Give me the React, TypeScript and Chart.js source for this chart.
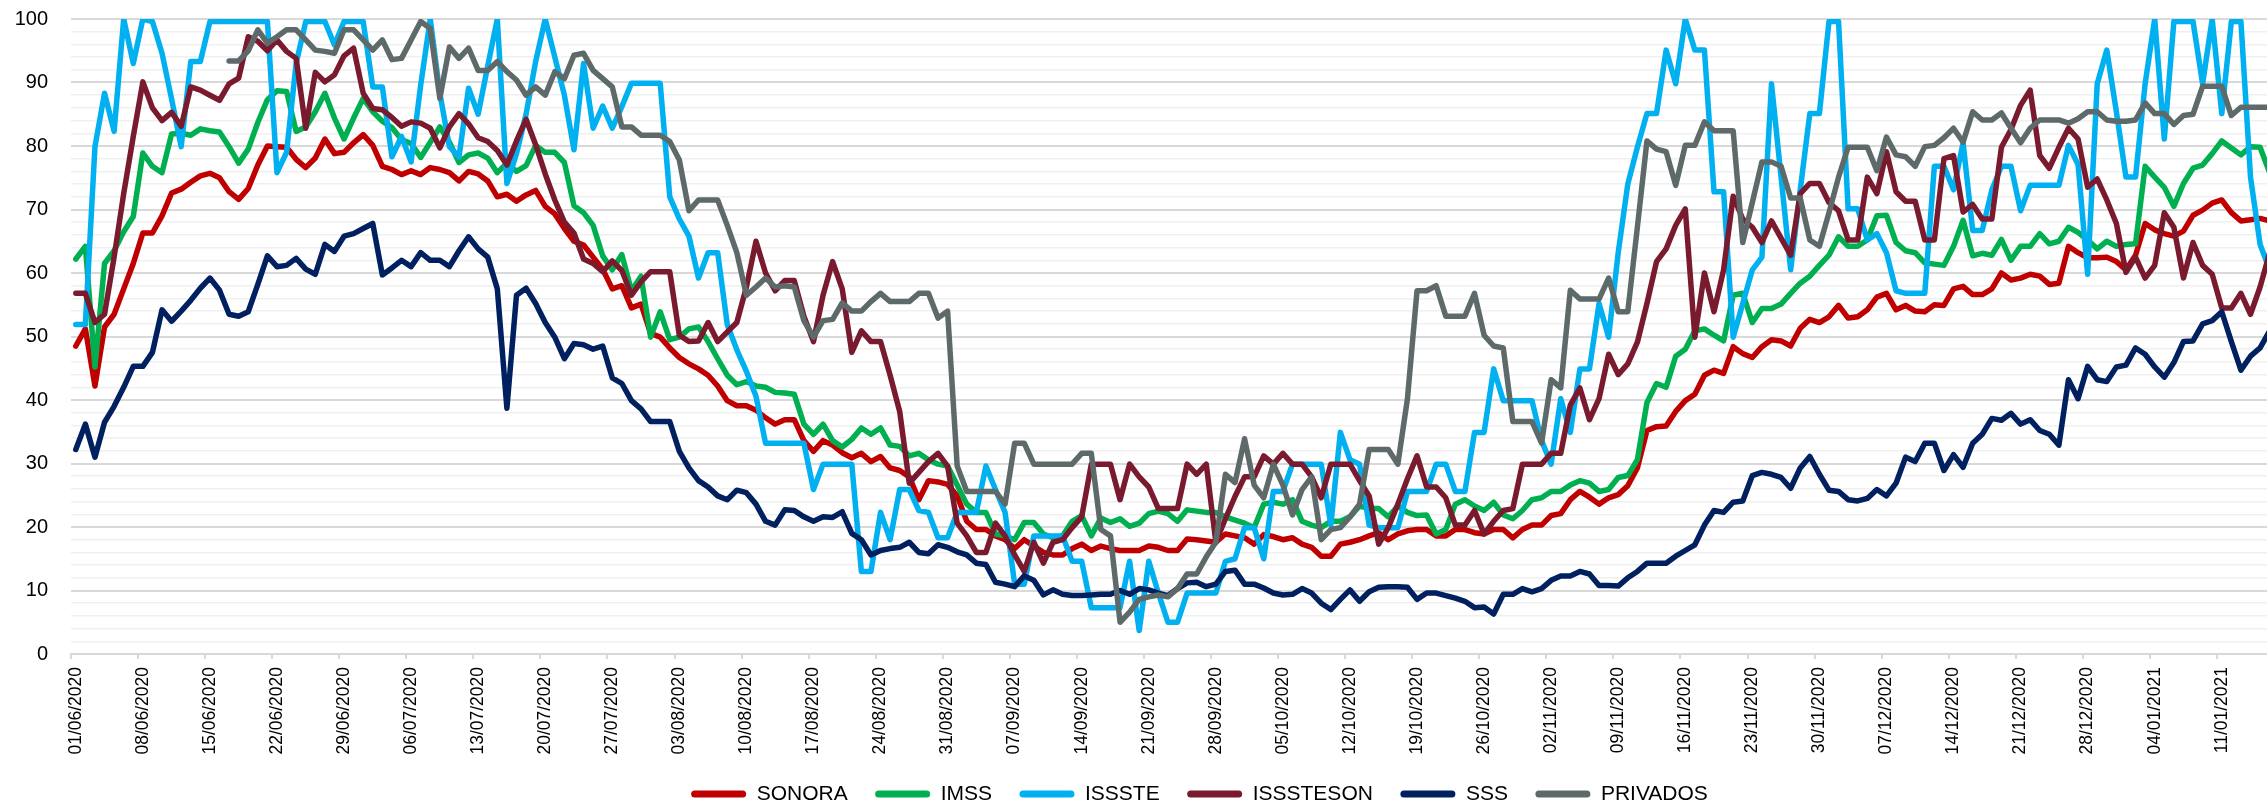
import React, { useEffect, useRef } from 'react';
import { Chart, registerables } from 'chart.js';

Chart.register(...registerables);

// ---------- categories (daily, 01/06/2020 onwards) ----------
const START_DATE = Date.UTC(2020, 5, 1);
const CATEGORY_COUNT = 243;
const LABEL_EVERY = 7;
const pad2 = (n: number) => (n < 10 ? '0' + n : String(n));
const categories: string[] = Array.from({ length: CATEGORY_COUNT }, (_, i) => {
  const d = new Date(START_DATE + i * 86400000);
  return `${pad2(d.getUTCDate())}/${pad2(d.getUTCMonth() + 1)}/${d.getUTCFullYear()}`;
});

// ---------- y axis ----------
const Y_MIN = 0;
const Y_MAX = 100;
const Y_STEP = 2;
const Y_LABEL_EVERY = 10;

// ---------- series values (%), one per day ----------
const SONORA = [
  48.5, 51.2, 42.2, 51.5, 53.5, 57.5, 61.5, 66.3, 66.3, 69.0,
  72.6, 73.2, 74.3, 75.3, 75.7, 75.0, 72.8, 71.6, 73.3, 77.0,
  80.0, 79.9, 79.8, 77.9, 76.6, 78.1, 81.1, 78.8, 79.0, 80.5,
  81.8, 80.1, 76.8, 76.3, 75.5, 76.1, 75.5, 76.6, 76.3, 75.8,
  74.5, 76.0, 75.6, 74.5, 72.0, 72.4, 71.3, 72.3, 73.0, 70.5,
  69.3, 67.0, 65.0, 64.4, 62.5, 60.6, 57.5, 58.0, 54.5, 55.1,
  50.5, 49.9, 48.2, 46.7, 45.7, 44.9, 43.9, 42.2, 39.9, 39.1,
  39.1, 38.4, 37.2, 36.2, 36.9, 36.9, 33.6, 31.9, 33.6, 32.9,
  31.7, 30.9, 31.6, 30.3, 31.1, 29.3, 28.9, 27.9, 24.3, 27.3,
  27.1, 26.7, 24.9, 20.9, 19.6, 19.6, 18.6, 18.0, 16.6, 18.0,
  17.0, 16.0, 15.6, 15.6, 16.6, 17.3, 16.3, 17.0, 16.6, 16.3,
  16.3, 16.3, 17.0, 16.8, 16.3, 16.3, 18.1, 18.0, 17.8, 17.6,
  18.9, 18.6, 18.3, 17.3, 18.8, 18.5, 18.0, 18.3, 17.3, 16.8,
  15.4, 15.4, 17.3, 17.6, 18.0, 18.6, 19.1, 18.0, 18.9, 19.4,
  19.6, 19.6, 18.6, 18.6, 19.6, 19.6, 19.1, 18.9, 19.6, 19.6,
  18.3, 19.6, 20.3, 20.3, 21.8, 22.1, 24.3, 25.6, 24.7, 23.6,
  24.6, 25.1, 26.5, 29.3, 35.2, 35.8, 35.9, 38.2, 39.9, 40.9,
  43.9, 44.7, 44.2, 48.4, 47.3, 46.7, 48.4, 49.5, 49.3, 48.5,
  51.3, 52.7, 52.2, 53.1, 54.9, 52.9, 53.1, 54.2, 56.2, 56.8,
  54.2, 54.9, 54.0, 53.9, 55.0, 54.9, 57.5, 57.9, 56.6, 56.6,
  57.5, 60.0, 58.9, 59.2, 59.8, 59.5, 58.2, 58.4, 64.2, 63.2,
  62.4, 62.4, 62.5, 61.8, 60.5, 62.8, 67.8, 66.8, 66.2, 65.8,
  66.6, 69.1, 69.9, 71.0, 71.5, 69.5, 68.2, 68.4, 68.6, 68.2,
];

const IMSS = [
  62.2, 64.2, 45.2, 61.5, 63.5, 66.5, 68.9, 78.9, 76.8, 75.8,
  81.9, 82.0, 81.7, 82.7, 82.4, 82.2, 79.9, 77.3, 79.5, 83.7,
  87.3, 88.7, 88.6, 82.3, 83.0, 85.4, 88.3, 84.4, 81.1, 84.4,
  87.5, 85.4, 83.9, 82.9, 81.0, 80.4, 78.2, 80.6, 83.0, 80.6,
  77.4, 78.6, 78.9, 78.1, 75.8, 77.3, 76.0, 76.9, 80.1, 79.0,
  79.0, 77.4, 70.6, 69.5, 67.5, 62.7, 60.5, 62.9, 57.2, 59.5,
  49.9, 53.9, 49.5, 49.9, 51.2, 51.5, 49.2, 46.5, 43.9, 42.4,
  42.9, 42.2, 42.0, 41.2, 41.1, 40.9, 36.2, 34.6, 36.2, 33.6,
  32.6, 33.8, 35.6, 34.6, 35.6, 32.9, 32.7, 31.2, 31.6, 30.6,
  29.9, 29.6, 26.6, 23.6, 22.3, 22.3, 18.9, 18.6, 18.0, 20.7,
  20.7, 18.9, 18.3, 18.6, 20.9, 21.8, 18.6, 21.4, 20.7, 21.3,
  20.1, 20.6, 22.1, 22.5, 22.1, 20.9, 22.7, 22.5, 22.3, 22.3,
  21.6, 21.1, 20.6, 19.9, 23.6, 23.9, 23.6, 24.3, 20.9, 20.3,
  19.9, 20.9, 20.9, 21.6, 23.3, 22.9, 22.9, 21.6, 23.3, 22.3,
  21.8, 21.9, 18.9, 19.6, 23.6, 24.3, 23.3, 22.6, 23.9, 21.9,
  21.3, 22.6, 24.3, 24.6, 25.6, 25.6, 26.6, 27.3, 26.9, 25.6,
  25.9, 27.8, 28.1, 30.6, 39.6, 42.6, 42.0, 46.9, 48.0, 50.9,
  51.2, 50.2, 49.3, 56.5, 56.8, 52.2, 54.4, 54.4, 55.1, 56.8,
  58.4, 59.5, 61.2, 62.8, 65.7, 64.2, 64.2, 65.2, 69.0, 69.1,
  64.8, 63.5, 63.2, 61.6, 61.4, 61.2, 64.2, 68.3, 62.7, 63.1,
  62.8, 65.3, 62.0, 64.2, 64.2, 66.2, 64.6, 65.0, 67.2, 66.4,
  65.2, 63.8, 65.0, 64.2, 64.5, 64.6, 76.8, 75.1, 73.5, 70.5,
  74.1, 76.5, 77.0, 78.8, 80.8, 79.7, 78.6, 79.9, 79.8, 75.8,
];

const ISSSTE = [
  51.9, 51.9, 79.9, 88.3, 82.3, 100, 93.0, 100, 99.6, 94.6,
  87.4, 79.9, 93.3, 93.3, 99.6, 99.6, 99.6, 99.6, 99.6, 99.6,
  99.6, 75.8, 79.0, 93.0, 99.6, 99.6, 99.6, 95.9, 99.6, 99.6,
  99.6, 89.3, 89.3, 78.3, 81.5, 77.5, 89.6, 100, 88.3, 79.9,
  78.3, 89.1, 85.0, 92.6, 100, 74.1, 78.8, 85.0, 93.3, 100,
  94.0, 88.0, 79.4, 93.0, 82.8, 86.3, 82.8, 86.2, 89.9, 89.9,
  89.9, 89.9, 72.0, 68.5, 65.8, 59.2, 63.2, 63.2, 51.9, 47.9,
  44.5, 40.6, 33.2, 33.2, 33.2, 33.2, 33.2, 25.9, 29.9, 29.9,
  29.9, 29.9, 13.0, 13.0, 22.3, 18.0, 25.9, 25.9, 22.6, 22.3,
  18.3, 18.3, 22.3, 22.3, 22.3, 29.6, 25.9, 22.3, 11.0, 11.0,
  18.6, 18.6, 18.6, 18.6, 14.6, 14.6, 7.3, 7.3, 7.3, 7.3,
  14.6, 3.7, 14.6, 9.6, 5.0, 5.0, 9.6, 9.6, 9.6, 9.6,
  14.6, 15.0, 19.9, 19.9, 15.0, 25.6, 25.6, 29.9, 29.9, 29.9,
  29.9, 20.3, 34.9, 30.6, 29.9, 20.3, 19.9, 19.9, 19.9, 25.6,
  25.6, 25.6, 29.9, 29.9, 25.6, 25.6, 34.9, 34.9, 44.9, 39.9,
  39.9, 39.9, 39.9, 33.6, 29.9, 40.2, 34.9, 44.9, 44.9, 55.2,
  49.9, 63.2, 74.0, 79.8, 85.1, 85.1, 95.1, 89.8, 100, 95.1,
  95.1, 72.8, 72.8, 49.9, 55.2, 60.5, 62.5, 89.8, 75.1, 60.5,
  73.1, 85.1, 85.1, 99.6, 99.6, 70.1, 70.1, 65.2, 66.2, 63.2,
  57.2, 56.8, 56.8, 56.8, 76.8, 76.8, 73.1, 80.5, 66.7, 66.7,
  73.1, 76.8, 76.8, 69.8, 73.8, 73.8, 73.8, 73.8, 80.1, 77.1,
  59.8, 89.8, 95.1, 85.4, 75.1, 75.1, 89.8, 100, 81.1, 99.6,
  99.6, 99.6, 89.8, 100, 85.1, 99.6, 99.6, 75.1, 64.5, 60.5,
];

const ISSSTESON = [
  56.8, 56.8, 52.2, 53.5, 62.5, 72.5, 81.5, 90.1, 86.0, 84.0,
  85.3, 83.1, 89.3, 88.8, 88.0, 87.2, 89.8, 90.7, 97.2, 96.5,
  95.0, 96.7, 94.9, 93.8, 82.8, 91.6, 90.1, 91.2, 94.2, 95.4,
  88.3, 85.9, 85.7, 84.5, 83.1, 83.8, 83.6, 82.8, 79.7, 83.0,
  85.1, 83.5, 81.3, 80.7, 79.3, 77.0, 80.8, 84.2, 80.2, 75.6,
  71.5, 68.0, 66.3, 62.2, 61.5, 60.2, 61.9, 60.4, 56.5, 58.6,
  60.2, 60.2, 60.2, 50.2, 49.2, 49.3, 52.2, 49.2, 50.7, 52.2,
  57.8, 65.0, 60.0, 57.2, 58.8, 58.8, 53.2, 49.2, 56.5, 61.8,
  57.5, 47.5, 50.9, 49.2, 49.2, 43.9, 38.2, 26.9, 28.6, 30.3,
  31.6, 29.6, 20.6, 18.6, 16.0, 16.0, 20.6, 18.6, 15.6, 13.0,
  17.6, 14.3, 17.6, 18.0, 19.9, 21.6, 29.9, 29.9, 29.9, 24.3,
  29.9, 27.9, 26.3, 22.9, 22.9, 22.9, 29.9, 28.3, 29.9, 17.6,
  21.3, 24.8, 27.9, 27.9, 31.2, 29.9, 31.6, 29.9, 29.9, 27.9,
  24.6, 29.9, 29.9, 29.9, 27.3, 24.9, 17.3, 19.9, 23.6, 27.6,
  31.2, 26.3, 26.3, 24.6, 20.3, 20.3, 22.6, 18.9, 20.9, 22.6,
  22.9, 29.9, 29.9, 29.9, 31.6, 31.6, 39.2, 41.9, 36.9, 40.2,
  47.2, 44.0, 45.7, 49.1, 55.2, 61.8, 63.8, 67.5, 70.1, 49.9,
  60.0, 53.9, 60.5, 72.1, 68.5, 67.2, 64.8, 68.2, 65.5, 62.8,
  72.5, 74.1, 74.1, 71.1, 69.8, 65.2, 65.2, 75.1, 72.5, 79.1,
  72.8, 71.3, 71.3, 65.2, 65.2, 78.0, 78.5, 69.6, 70.8, 68.5,
  68.5, 79.8, 82.6, 86.4, 88.8, 78.5, 76.5, 79.8, 82.8, 81.1,
  73.5, 74.8, 71.5, 67.8, 60.1, 62.5, 59.2, 61.2, 69.5, 67.2,
  59.2, 64.8, 61.2, 59.8, 54.5, 54.5, 56.8, 53.5, 57.8, 63.2,
];

const SSS = [
  32.2, 36.2, 31.0, 36.5, 39.0, 42.0, 45.3, 45.3, 47.5, 54.2,
  52.4, 54.0, 55.7, 57.6, 59.2, 57.3, 53.5, 53.2, 53.9, 58.2,
  62.7, 61.0, 61.2, 62.3, 60.6, 59.8, 64.5, 63.4, 65.8, 66.2,
  67.0, 67.8, 59.7, 60.8, 62.0, 61.0, 63.2, 62.0, 62.0, 61.0,
  63.5, 65.7, 63.8, 62.5, 57.5, 38.7, 56.5, 57.6, 55.2, 52.2,
  49.9, 46.5, 48.9, 48.7, 48.0, 48.5, 43.5, 42.6, 39.9, 38.6,
  36.6, 36.6, 36.6, 31.9, 29.3, 27.3, 26.3, 24.9, 24.3, 25.8,
  25.4, 23.6, 20.9, 20.3, 22.7, 22.6, 21.6, 20.9, 21.6, 21.5,
  22.4, 19.0, 18.0, 15.6, 16.3, 16.6, 16.8, 17.6, 16.0, 15.8,
  17.2, 16.8, 16.1, 15.6, 14.3, 14.1, 11.3, 11.0, 10.6, 12.3,
  11.6, 9.3, 10.1, 9.4, 9.2, 9.2, 9.3, 9.4, 9.4, 10.0,
  9.4, 10.3, 10.1, 9.6, 9.2, 10.3, 11.2, 11.3, 10.6, 11.0,
  13.0, 13.2, 11.0, 11.0, 10.4, 9.6, 9.3, 9.4, 10.3, 9.6,
  8.0, 7.0, 8.6, 10.1, 8.3, 9.8, 10.5, 10.6, 10.6, 10.5,
  8.6, 9.6, 9.6, 9.2, 8.8, 8.3, 7.3, 7.4, 6.3, 9.4,
  9.4, 10.3, 9.8, 10.3, 11.6, 12.3, 12.3, 13.0, 12.6, 10.8,
  10.8, 10.7, 12.0, 13.0, 14.3, 14.3, 14.3, 15.4, 16.3, 17.2,
  20.3, 22.6, 22.3, 23.9, 24.1, 28.1, 28.6, 28.3, 27.8, 26.1,
  29.3, 31.1, 28.3, 25.8, 25.6, 24.3, 24.1, 24.5, 25.9, 24.9,
  26.9, 31.0, 30.3, 33.2, 33.2, 28.9, 31.4, 29.4, 33.2, 34.6,
  37.1, 36.8, 37.9, 36.2, 36.9, 35.2, 34.6, 32.9, 43.2, 40.2,
  45.3, 43.2, 42.9, 45.2, 45.5, 48.2, 47.2, 45.2, 43.6, 45.9,
  49.2, 49.3, 52.0, 52.5, 53.9, 49.2, 44.7, 46.9, 48.2, 50.9,
];

const PRIVADOS = [
  null, null, null, null, null, null, null, null, null, null,
  null, null, null, null, null, null, 93.4, 93.4, 95.0, 98.3,
  96.2, 97.2, 98.3, 98.3, 96.7, 95.1, 94.9, 94.6, 98.3, 98.3,
  96.7, 95.1, 96.7, 93.6, 93.8, 96.7, 99.6, 98.5, 87.5, 95.6,
  93.8, 95.4, 91.9, 91.9, 93.3, 91.7, 90.4, 88.0, 89.3, 88.0,
  91.7, 90.6, 94.3, 94.6, 91.9, 90.6, 89.3, 83.0, 83.0, 81.7,
  81.7, 81.7, 80.7, 77.8, 69.8, 71.5, 71.5, 71.5, 67.5, 63.2,
  56.5, 57.8, 59.2, 57.8, 58.0, 57.8, 52.5, 49.9, 52.5, 52.7,
  55.3, 54.0, 54.0, 55.5, 56.8, 55.5, 55.5, 55.5, 56.8, 56.8,
  52.9, 54.0, 29.6, 25.6, 25.6, 25.6, 25.6, 23.6, 33.2, 33.2,
  29.9, 29.9, 29.9, 29.9, 29.9, 31.6, 31.6, 19.6, 18.6, 5.0,
  6.6, 8.6, 9.0, 9.3, 9.0, 10.3, 12.6, 12.6, 15.3, 17.6,
  28.3, 27.0, 33.9, 26.6, 24.6, 29.9, 26.6, 21.9, 25.9, 27.9,
  18.0, 19.6, 19.9, 21.6, 23.6, 32.2, 32.2, 32.2, 29.9, 40.2,
  57.2, 57.2, 58.0, 53.2, 53.2, 53.2, 56.8, 50.2, 48.5, 48.2,
  36.6, 36.6, 36.6, 33.2, 43.2, 41.9, 57.3, 55.9, 55.9, 55.9,
  59.2, 53.9, 53.9, 67.2, 80.8, 79.5, 79.1, 73.8, 80.1, 80.1,
  83.8, 82.4, 82.4, 82.4, 64.8, 71.1, 77.5, 77.5, 76.8, 71.8,
  71.8, 65.2, 64.2, 69.5, 75.1, 79.8, 79.8, 79.8, 76.1, 81.4,
  78.6, 78.3, 76.8, 79.9, 80.1, 81.3, 82.8, 80.6, 85.4, 84.1,
  84.1, 85.2, 82.8, 80.5, 82.8, 84.1, 84.1, 84.1, 83.6, 84.3,
  85.4, 85.4, 84.1, 83.9, 83.9, 84.1, 86.8, 85.1, 85.1, 83.4,
  84.8, 85.0, 89.4, 89.4, 89.4, 84.8, 86.1, 86.1, 86.1, 86.1,
];

const SERIES_NAMES = ['SONORA', 'IMSS', 'ISSSTE', 'ISSSTESON', 'SSS', 'PRIVADOS'];
const SERIES_VALUES = [SONORA, IMSS, ISSSTE, ISSSTESON, SSS, PRIVADOS];
const SERIES_COLORS = ['#C00000', '#00B050', '#00B0F0', '#7A1A2E', '#002060', '#5E6A6A'];

const FONT = "'Liberation Sans', Arial, sans-serif";
const GRID_MAJOR = '#d9d9d9';
const GRID_MINOR = '#f0f0f0';

export default function App() {
  const canvasRef = useRef<HTMLCanvasElement | null>(null);

  useEffect(() => {
    const canvas = canvasRef.current;
    if (!canvas) return;
    const n = SERIES_NAMES.length;
    const chart = new Chart(canvas, {
      type: 'line',
      data: {
        labels: categories,
        datasets: SERIES_NAMES.map((name, i) => ({
          label: name,
          data: SERIES_VALUES[i] as any,
          borderColor: SERIES_COLORS[i],
          backgroundColor: SERIES_COLORS[i],
          borderWidth: 5.5,
          pointRadius: 0,
          pointHoverRadius: 0,
          tension: 0,
          fill: false,
          spanGaps: false,
          borderJoinStyle: 'round' as const,
          borderCapStyle: 'round' as const,
          order: n - 1 - i,
        })),
      },
      options: {
        responsive: false,
        animation: false,
        events: [],
        layout: { padding: { top: 19, left: 0, right: 8, bottom: -8.5 } },
        plugins: {
          tooltip: { enabled: false },
          title: { display: false },
          legend: {
            display: true,
            position: 'bottom',
            align: 'center',
            labels: {
              boxWidth: 55,
              boxHeight: 7,
              useBorderRadius: true,
              borderRadius: 3.5,
              padding: 27.5,
              color: '#000000',
              font: { family: FONT, size: 21 },
              sort: (a: any, b: any) => a.datasetIndex - b.datasetIndex,
              generateLabels: (c: any) =>
                (Chart.defaults.plugins.legend.labels.generateLabels as any)(c).map((item: any) => ({
                  ...item,
                  fillStyle: item.strokeStyle,
                  lineWidth: 0,
                })),
            },
          },
        },
        scales: {
          x: {
            type: 'category',
            offset: true,
            afterFit: (s: any) => {
              s.height = 102;
              s.paddingLeft = 0;
              s.paddingRight = 0;
            },
            border: { display: true, color: GRID_MAJOR, width: 2 },
            grid: {
              display: true,
              offset: true,
              drawOnChartArea: false,
              drawTicks: true,
              tickLength: 5,
              lineWidth: 2,
              color: (ctx: any) => (ctx.index % LABEL_EVERY === 0 ? GRID_MAJOR : 'rgba(0,0,0,0)'),
              tickColor: (ctx: any) => (ctx.index % LABEL_EVERY === 0 ? GRID_MAJOR : 'rgba(0,0,0,0)'),
            },
            ticks: {
              autoSkip: false,
              maxRotation: 90,
              minRotation: 90,
              padding: 8,
              color: '#000000',
              font: { family: FONT, size: 17.5 },
              callback: function (this: any, value: any, index: number) {
                return index % LABEL_EVERY === 0 ? this.getLabelForValue(value) : '';
              },
            },
          },
          y: {
            min: Y_MIN,
            max: Y_MAX,
            afterFit: (s: any) => {
              s.width = 71;
              s.paddingTop = 0;
              s.paddingBottom = 0;
            },
            border: { display: false },
            grid: {
              drawTicks: false,
              color: (ctx: any) =>
                ctx.tick && ctx.tick.value % Y_LABEL_EVERY === 0 ? GRID_MAJOR : GRID_MINOR,
              lineWidth: (ctx: any) => (ctx.tick && ctx.tick.value % Y_LABEL_EVERY === 0 ? 2 : 1.5),
            },
            ticks: {
              stepSize: Y_STEP,
              maxTicksLimit: 100,
              autoSkip: false,
              padding: 23,
              color: '#000000',
              font: { family: FONT, size: 20 },
              callback: (v: any) => (Number(v) % Y_LABEL_EVERY === 0 ? String(v) : ''),
            },
          },
        },
      } as any,
    });
    return () => chart.destroy();
  }, []);

  return (
    <div
      style={{
        position: 'fixed',
        left: 0,
        top: 0,
        width: 2267,
        height: 806,
        overflow: 'hidden',
        background: '#ffffff',
      }}
    >
      <canvas ref={canvasRef} width={2407} height={806} style={{ width: 2407, height: 806, display: 'block' }} />
    </div>
  );
}
